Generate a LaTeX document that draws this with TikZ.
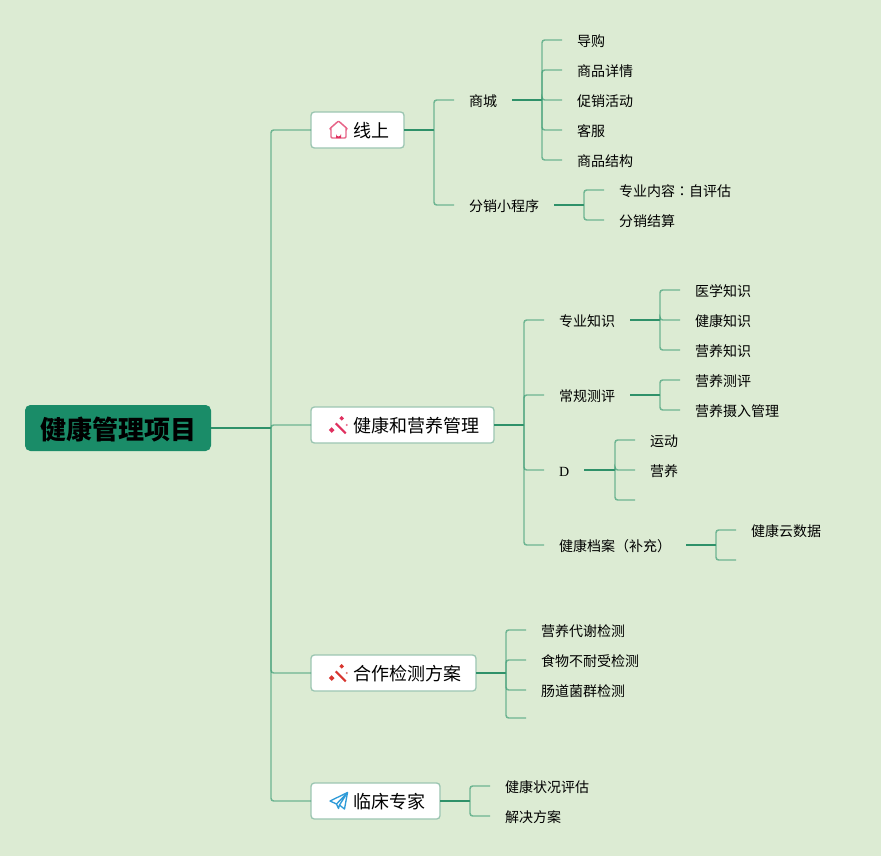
\documentclass[tikz,border=0pt]{standalone}
\usepackage{fontspec}
\setmainfont{Noto Sans CJK SC}
\newfontfamily\latinserif{Liberation Serif}
\newfontfamily\tcfont{Noto Sans CJK TC}
\definecolor{bgc}{HTML}{DCEBD3}
\definecolor{rootc}{HTML}{1A8C68}
\definecolor{stemc}{HTML}{2F9169}
\definecolor{linkc}{HTML}{3A9C74}
\definecolor{boxline}{HTML}{9CC6B2}
\definecolor{iconred}{HTML}{E0305F}
\definecolor{iconorange}{HTML}{D8352F}
\definecolor{iconblue}{HTML}{2F9BD8}
\tikzset{
  x=0.75pt,y=-0.75pt,
  rootbox/.style={fill=rootc,rounded corners=4pt,text=black,font=\fontsize{19.5pt}{23pt}\selectfont\bfseries,minimum width=139.5pt,minimum height=34.5pt,inner sep=0pt,outer sep=0pt,text height=20pt,text depth=2.2pt,anchor=west},
  topicbox/.style={draw=boxline,line width=1pt,fill=white,rounded corners=2.5pt,font=\fontsize{13.5pt}{16pt}\selectfont,minimum height=27pt,inner ysep=0pt,inner xsep=11.25pt,outer sep=0pt,text height=13.5pt,text depth=1.74pt,anchor=west,text=black},
  leafnode/.style={font=\fontsize{10.5pt}{13pt}\selectfont,inner ysep=0pt,inner xsep=11.25pt,outer sep=0pt,text height=11pt,text depth=1.5pt,anchor=west,text=black},
  stemline/.style={draw=stemc,line width=1.2pt},
  linkline/.style={draw=linkc,draw opacity=.68,line width=1.1pt,rounded corners=2pt},
  pics/houseicon/.style={code={
    \draw[iconred,draw opacity=.75,line width=1.1pt,line join=round,rounded corners=.8pt] (0,-9) -- (-8.5,-1.5) -- (-7.5,-1) -- (-7.5,8) -- (7.5,8) -- (7.5,-1) -- (8.5,-1.5) -- cycle;
    \fill[iconred] (-2.5,8) -- (-2.5,4) arc[start angle=180,end angle=0,radius=2.5] -- (2.5,8) -- cycle;
  }},
  pics/wandicon/.style={code={
    \draw[#1,line width=1.5pt] (-3.3,-1.7) -- (6.7,8.3);
    \fill[#1] (-7.3,2.2) -- (-4.5,5) -- (-7.3,7.8) -- (-10.1,5) -- cycle;
    \fill[#1] (2.7,-9) -- (5,-6.7) -- (2.7,-4.4) -- (.4,-6.7) -- cycle;
    \fill[#1!70] (7.7,0) circle (1.1);
  }},
  pics/planeicon/.style={code={
    \draw[iconblue,line width=1pt,line join=round] (-8.5,-.5) -- (9,-9) -- (6,7.5) -- (1,3.5) -- (0,7) -- (-2,2.5) -- cycle;
    \draw[iconblue,line width=1pt,line join=round] (-2,2.5) -- (9,-9) (1,3.5) -- (9,-9);
  }}
}
\begin{document}
\begin{tikzpicture}
\useasboundingbox[fill=bgc] (0,0) rectangle (881,856);

% root and first level
\node[rootbox] (root) at (25,428) {健康管理项目};
\coordinate (j0) at (271,428);
\node[topicbox] (t1) at (311,130) {\hspace{20.25pt}线上};
\node[topicbox] (t2) at (311,425) {\hspace{20.25pt}健康和营养管理};
\node[topicbox] (t3) at (311,673) {\hspace{20.25pt}合作检测方案};
\node[topicbox] (t4) at (311,801) {\hspace{20.25pt}临床专家};
\pic at (338.5,130) {houseicon};
\pic at (339,425) {wandicon=iconred};
\pic at (339,673) {wandicon=iconorange};
\pic at (338.5,801.5) {planeicon};
\draw[stemline] (root.east) -- (j0);
\foreach \n in {t1,t2,t3,t4} \draw[linkline] (j0) |- (\n.west);

% 线上
\coordinate (j1) at (434,130);
\node[leafnode] (a1) at (454,100) {商城};
\node[leafnode] (a2) at (454,205) {分销小程序};
\draw[stemline] (t1.east) -- (j1);
\foreach \n in {a1,a2} \draw[linkline] (j1) |- (\n.west);

\coordinate (j11) at (542,100);
\node[leafnode] (a11) at (562,40) {导购};
\node[leafnode] (a12) at (562,70) {商品详情};
\node[leafnode] (a13) at (562,100) {促销活动};
\node[leafnode] (a14) at (562,130) {客服};
\node[leafnode] (a15) at (562,160) {商品结构};
\draw[stemline] (a1.east) -- (j11);
\foreach \n in {a11,a12,a13,a14,a15} \draw[linkline] (j11) |- (\n.west);

\coordinate (j12) at (584,205);
\node[leafnode] (a21) at (604,190) {专业内容{\tcfont ：}自评估};
\node[leafnode] (a22) at (604,220) {分销结算};
\draw[stemline] (a2.east) -- (j12);
\foreach \n in {a21,a22} \draw[linkline] (j12) |- (\n.west);

% 健康和营养管理
\coordinate (j2) at (524,425);
\node[leafnode] (b1) at (544,320) {专业知识};
\node[leafnode] (b2) at (544,395) {常规测评};
\node[leafnode] (b3) at (544,470) {\latinserif D};
\node[leafnode] (b4) at (544,545) {健康档案（补充）};
\draw[stemline] (t2.east) -- (j2);
\foreach \n in {b1,b2,b3,b4} \draw[linkline] (j2) |- (\n.west);

\coordinate (j21) at (660,320);
\node[leafnode] (b11) at (680,290) {医学知识};
\node[leafnode] (b12) at (680,320) {健康知识};
\node[leafnode] (b13) at (680,350) {营养知识};
\draw[stemline] (b1.east) -- (j21);
\foreach \n in {b11,b12,b13} \draw[linkline] (j21) |- (\n.west);

\coordinate (j22) at (660,395);
\node[leafnode] (b21) at (680,380) {营养测评};
\node[leafnode] (b22) at (680,410) {营养摄入管理};
\draw[stemline] (b2.east) -- (j22);
\foreach \n in {b21,b22} \draw[linkline] (j22) |- (\n.west);

\coordinate (j23) at (615,470);
\node[leafnode] (b31) at (635,440) {运动};
\node[leafnode] (b32) at (635,470) {营养};
\coordinate (b33) at (635,500);
\draw[stemline] (b3.east) -- (j23);
\foreach \n in {b31.west,b32.west,b33} \draw[linkline] (j23) |- (\n);

\coordinate (j24) at (716,545);
\node[leafnode] (b41) at (736,530) {健康云数据};
\coordinate (b42) at (736,560);
\draw[stemline] (b4.east) -- (j24);
\foreach \n in {b41.west,b42} \draw[linkline] (j24) |- (\n);

% 合作检测方案
\coordinate (j3) at (506,673);
\node[leafnode] (c1) at (526,630) {营养代谢检测};
\node[leafnode] (c2) at (526,660) {食物不耐受检测};
\node[leafnode] (c3) at (526,690) {肠道菌群检测};
\coordinate (c4) at (526,718);
\draw[stemline] (t3.east) -- (j3);
\foreach \n in {c1.west,c2.west,c3.west,c4} \draw[linkline] (j3) |- (\n);

% 临床专家
\coordinate (j4) at (470,801);
\node[leafnode] (d1) at (490,786) {健康状况评估};
\node[leafnode] (d2) at (490,816) {解决方案};
\draw[stemline] (t4.east) -- (j4);
\foreach \n in {d1,d2} \draw[linkline] (j4) |- (\n.west);
\end{tikzpicture}
\end{document}
